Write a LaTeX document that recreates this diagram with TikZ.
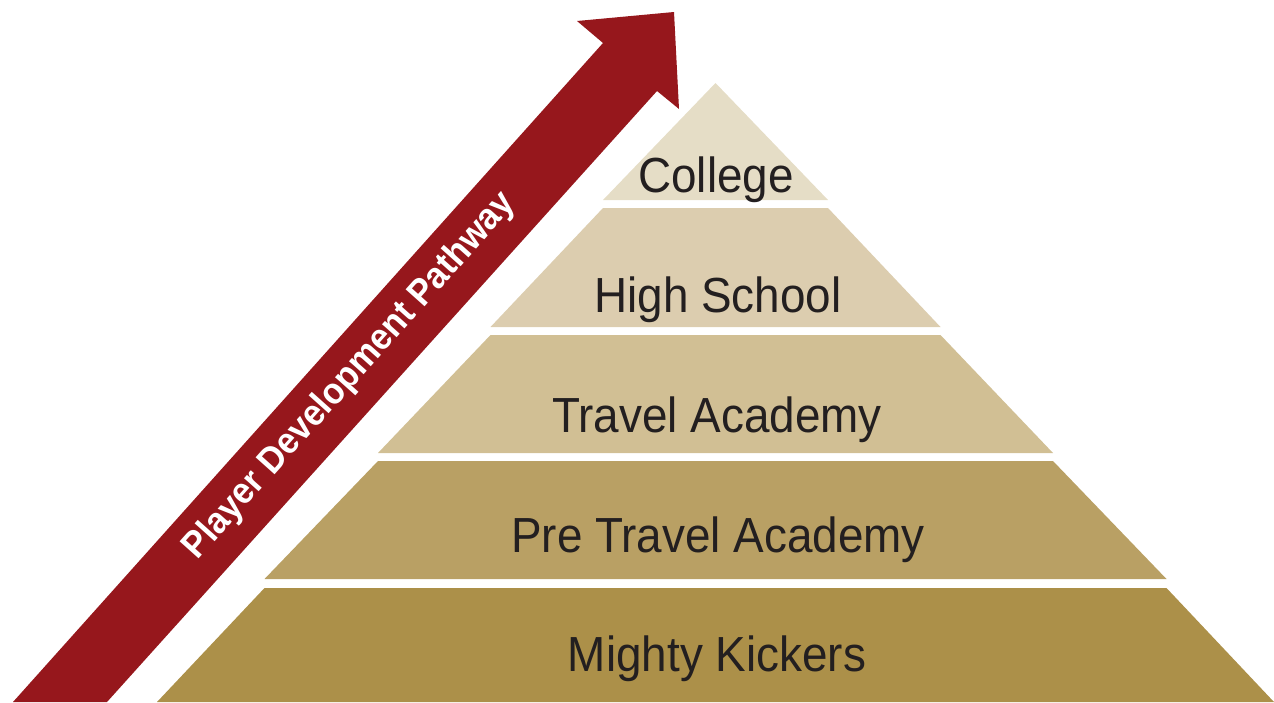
\documentclass[tikz,border=0pt]{standalone}
\usepackage{fontspec}
\setmainfont[FakeStretch=0.93]{Liberation Sans}
\definecolor{cCollege}{HTML}{E5DDC6}
\definecolor{cHigh}{HTML}{DCCDAF}
\definecolor{cTravel}{HTML}{D1BF94}
\definecolor{cPre}{HTML}{B9A064}
\definecolor{cMighty}{HTML}{AC9049}
\definecolor{cRed}{HTML}{96171C}
\definecolor{cText}{HTML}{231F20}
\begin{document}
\begin{tikzpicture}[x=1pt,y=-1pt,
  bandlabel/.style={anchor=base,text=cText,inner sep=0pt,font=\fontsize{49.3}{52}\selectfont},
  arrowlabel/.style={rotate=48.2,text=white,inner sep=0pt,font=\fontsize{37}{40}\selectfont\bfseries}]
\useasboundingbox (0,0) rectangle (1274,702);
% pyramid bands
\fill[cCollege] (715.5,83) -- (828,200) -- (603,200) -- cycle;
\fill[cHigh] (603,208) -- (828,208) -- (940.5,327) -- (490.5,327) -- cycle;
\fill[cTravel] (490.5,335) -- (940.5,335) -- (1053,453) -- (378,453) -- cycle;
\fill[cPre] (378,461) -- (1053,461) -- (1166.5,579) -- (264.5,579) -- cycle;
\fill[cMighty] (264.5,588) -- (1166.5,588) -- (1274,702) -- (157,702) -- cycle;
% arrow
\fill[cRed] (13,702) -- (603,43) -- (577,21) -- (674,12) -- (679,109) -- (657,91) -- (107,702) -- cycle;
% labels
\node[bandlabel] (college) at (716,192) {College};
\node[bandlabel] (high) at (718,312) {High School};
\node[bandlabel] (travel) at (717,432) {Travel Academy};
\node[bandlabel] (pre) at (718,552) {Pre Travel Academy};
\node[bandlabel] (mighty) at (717,671) {Mighty Kickers};
\node[arrowlabel] (path) at (350,376) {Player Development Pathway};
\end{tikzpicture}
\end{document}
